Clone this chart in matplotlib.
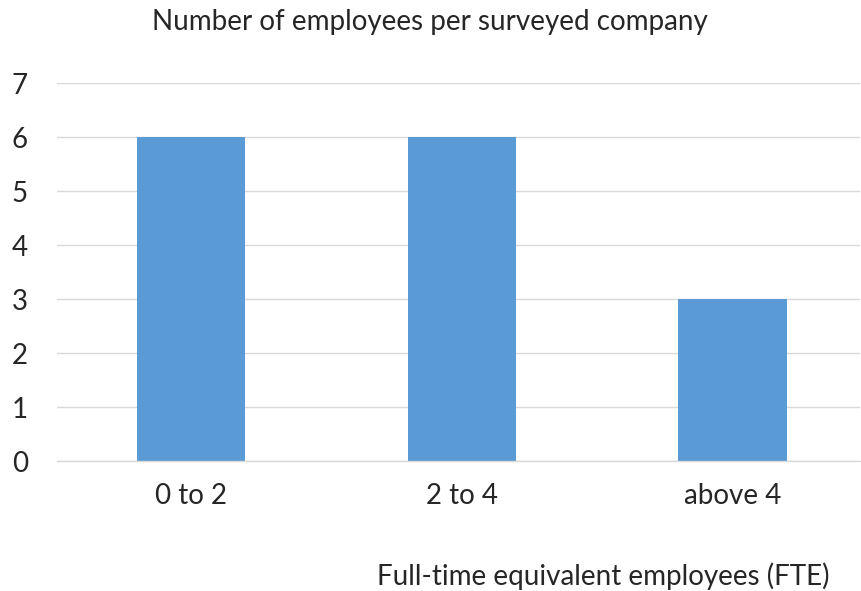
import matplotlib.pyplot as plt

# Survey results
categories = ["0 to 2", "2 to 4", "above 4"]
counts = [6, 6, 3]
yticks = [0, 1, 2, 3, 4, 5, 6, 7]

BAR_COLOR = "#5B9BD5"
GRID_COLOR = "#D9D9D9"
TEXT_COLOR = "#262626"
FONT_SIZE = 20

plt.rcParams['font.family'] = ['Lato', 'DejaVu Sans']

fig = plt.figure(figsize=(8.61, 5.91), dpi=100)
ax = fig.add_axes([57 / 861, 130 / 591, 803 / 861, 378 / 591])

x = range(len(categories))
ax.bar(x, counts, width=0.4, color=BAR_COLOR, zorder=2)

ax.set_xlim(-0.494, 2.47)
ax.set_ylim(0, 7)
ax.set_yticks(yticks)
ax.set_xticks(list(x))
ax.set_xticklabels(categories)

ax.grid(axis='y', color=GRID_COLOR, linewidth=1, zorder=0)
for side in ['top', 'right', 'left']:
    ax.spines[side].set_visible(False)
ax.spines['bottom'].set_color(GRID_COLOR)
ax.spines['bottom'].set_linewidth(1)

ax.tick_params(axis='y', length=0, pad=21, labelsize=FONT_SIZE, labelcolor=TEXT_COLOR)
ax.tick_params(axis='x', length=0, pad=16, labelsize=FONT_SIZE, labelcolor=TEXT_COLOR)

fig.text(430 / 861, 1 - 22 / 591, "Number of employees per surveyed company",
         ha='center', va='center', fontsize=FONT_SIZE, color=TEXT_COLOR)
fig.text(603 / 861, 1 - 576 / 591, "Full-time equivalent employees (FTE)",
         ha='center', va='center', fontsize=FONT_SIZE, color=TEXT_COLOR)

fig.savefig("out.png", dpi=100, facecolor='white')
